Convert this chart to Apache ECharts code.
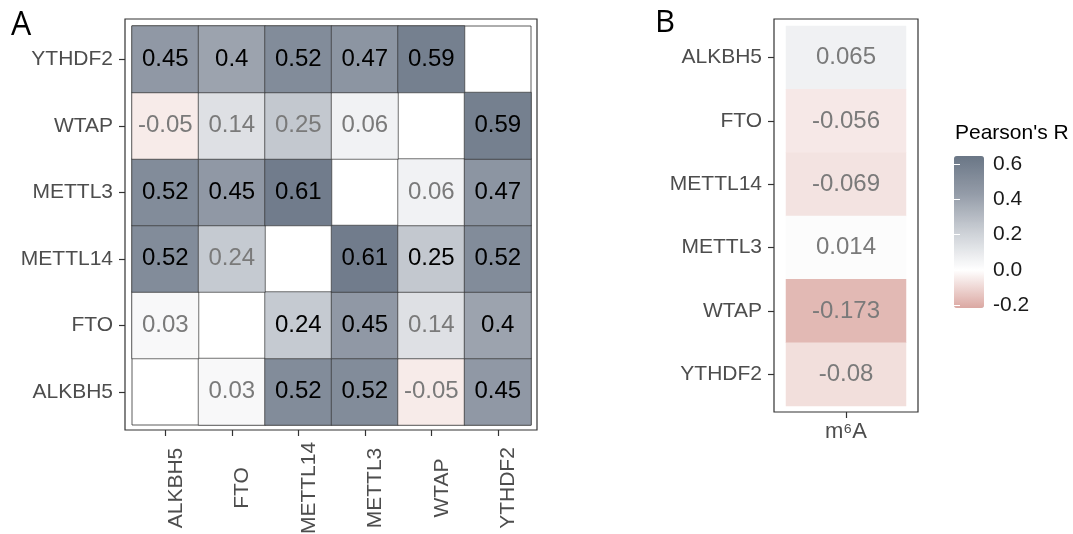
<!DOCTYPE html>
<html>
<head>
<meta charset="utf-8">
<script src="https://cdn.jsdelivr.net/npm/echarts@6/dist/echarts.min.js"></script>
<style>html,body{margin:0;padding:0;background:#fff;}#c{width:1073px;height:534px;}</style>
</head>
<body>
<div id="c"></div>
<script>
// ---- data ----
const genes = ['ALKBH5', 'FTO', 'METTL14', 'METTL3', 'WTAP', 'YTHDF2'];
// panel A correlation rows (row gene vs column genes), null = diagonal
const rowALKBH5  = [null, 0.03, 0.52, 0.52, -0.05, 0.45];
const rowFTO     = [0.03, null, 0.24, 0.45, 0.14, 0.4];
const rowMETTL14 = [0.52, 0.24, null, 0.61, 0.25, 0.52];
const rowMETTL3  = [0.52, 0.45, 0.61, null, 0.06, 0.47];
const rowWTAP    = [-0.05, 0.14, 0.25, 0.06, null, 0.59];
const rowYTHDF2  = [0.45, 0.4, 0.52, 0.47, 0.59, null];
// significance flags (1 = dark label, 0 = grey label)
const sigALKBH5  = [0, 0, 1, 1, 0, 1];
const sigFTO     = [0, 0, 1, 1, 0, 1];
const sigMETTL14 = [1, 0, 0, 1, 1, 1];
const sigMETTL3  = [1, 1, 1, 0, 0, 1];
const sigWTAP    = [0, 0, 0, 0, 0, 1];
const sigYTHDF2  = [1, 1, 1, 1, 1, 0];
// panel B
const m6aLabel = ['m\u2076A'];
const m6aR = [0.065, -0.056, -0.069, 0.014, -0.173, -0.08];
// legend
const legendTicks = [-0.2, 0, 0.2, 0.4, 0.6];
const colorMin = -0.215, colorMax = 0.645;

const corrRows = [rowALKBH5, rowFTO, rowMETTL14, rowMETTL3, rowWTAP, rowYTHDF2];
const sigRows = [sigALKBH5, sigFTO, sigMETTL14, sigMETTL3, sigWTAP, sigYTHDF2];
const dataA = [];
corrRows.forEach((row, y) => row.forEach((v, x) => {
  if (v !== null) dataA.push([x, y, v, sigRows[y][x]]);
}));
const dataB = m6aR.map((v, i) => [0, i, v]);

const FONT = '"Liberation Sans", Arial, sans-serif';
const AXC = '#4d4d4d';
const hiddenLine = {show: true, lineStyle: {color: 'rgba(0,0,0,0)', width: 0}};
const tick = {show: true, alignWithLabel: true, length: 6, lineStyle: {color: '#333', width: 1.2}};

const chart = echarts.init(document.getElementById('c'), null, {renderer: 'canvas'});
const legendAxisBase = {
  gridIndex: 2, type: 'value', min: colorMin, max: colorMax, z: 10,
  axisLine: {show: false}, splitLine: {show: false},
  axisTick: {inside: true, length: 6, customValues: legendTicks, lineStyle: {color: '#fff', width: 1}}
};
chart.setOption({
  animation: false,
  textStyle: {fontFamily: FONT},
  title: [{
    text: "Pearson's R", left: 955, top: 123, padding: 0,
    textStyle: {fontSize: 21, fontWeight: 'normal', color: '#000', fontFamily: FONT}
  }],
  graphic: [
    {type: 'text', left: 11, top: 10, style: {text: 'A', fontSize: 32, fontFamily: '"Open Sans", sans-serif', fill: '#000'}},
    {type: 'text', left: 655, top: 8, style: {text: 'B', fontSize: 31, fontFamily: '"Open Sans", sans-serif', fill: '#000'}},
    {type: 'rect', shape: {x: 125, y: 19, width: 412, height: 411}, style: {fill: 'none', stroke: '#333', lineWidth: 1.2}},
    {type: 'rect', shape: {x: 774, y: 19, width: 144, height: 393}, style: {fill: 'none', stroke: '#333', lineWidth: 1.2}}
  ],
  grid: [
    {left: 132, top: 26, width: 399, height: 399, outerBoundsMode: 'none', containLabel: false,
     show: true, borderColor: '#333', borderWidth: 0.8, backgroundColor: '#fff'},
    {left: 786, top: 26, width: 120, height: 380, outerBoundsMode: 'none', containLabel: false},
    {left: 954, top: 156, width: 30, height: 152, outerBoundsMode: 'none', containLabel: false}
  ],
  xAxis: [
    {gridIndex: 0, type: 'category', data: genes, offset: 5,
     axisLine: hiddenLine, splitLine: {show: false}, axisTick: tick,
     axisLabel: {rotate: 90, align: 'center', verticalAlign: 'top', margin: 58, fontSize: 21, color: AXC, interval: 0}},
    {gridIndex: 1, type: 'category', data: m6aLabel, offset: 6,
     axisLine: hiddenLine, splitLine: {show: false}, axisTick: tick,
     axisLabel: {margin: 9, fontSize: 22, color: AXC}},
    {gridIndex: 2, type: 'value', show: false}
  ],
  yAxis: [
    {gridIndex: 0, type: 'category', data: genes, offset: 7,
     axisLine: hiddenLine, splitLine: {show: false}, axisTick: tick,
     axisLabel: {margin: 12, fontSize: 21, color: AXC, interval: 0}},
    {gridIndex: 1, type: 'category', data: genes, inverse: true, offset: 12,
     axisLine: hiddenLine, splitLine: {show: false}, axisTick: tick,
     axisLabel: {margin: 12, fontSize: 21, color: AXC, interval: 0}},
    Object.assign({}, legendAxisBase, {position: 'right',
      axisLabel: {customValues: legendTicks, formatter: v => v.toFixed(1), margin: 9, fontSize: 21, color: '#1a1a1a'}}),
    Object.assign({}, legendAxisBase, {position: 'left', axisLabel: {show: false}})
  ],
  visualMap: {
    type: 'continuous', seriesIndex: [0, 1], dimension: 2,
    min: colorMin, max: colorMax, calculable: false, show: true,
    orient: 'vertical', left: 954, top: 156, itemWidth: 30, itemHeight: 152, padding: 0,
    inRange: {color: ['#dba8a2', '#ffffff', '#ccd0d6', '#949ca8', '#6a7686']}
  },
  series: [
    {type: 'heatmap', xAxisIndex: 0, yAxisIndex: 0, data: dataA,
     itemStyle: {borderColor: '#333', borderWidth: 0.7},
     emphasis: {disabled: true},
     label: {show: true,
       formatter: p => '{' + (p.value[3] ? 'd' : 'g') + '|' + p.value[2] + '}',
       rich: {d: {color: '#000', fontSize: 24, fontFamily: FONT}, g: {color: '#7a7a7a', fontSize: 24, fontFamily: FONT}}}},
    {type: 'heatmap', xAxisIndex: 1, yAxisIndex: 1, data: dataB,
     emphasis: {disabled: true},
     label: {show: true, formatter: p => String(p.value[2]), color: '#7a7a7a', fontSize: 24, fontFamily: FONT}}
  ]
});
</script>
</body>
</html>
